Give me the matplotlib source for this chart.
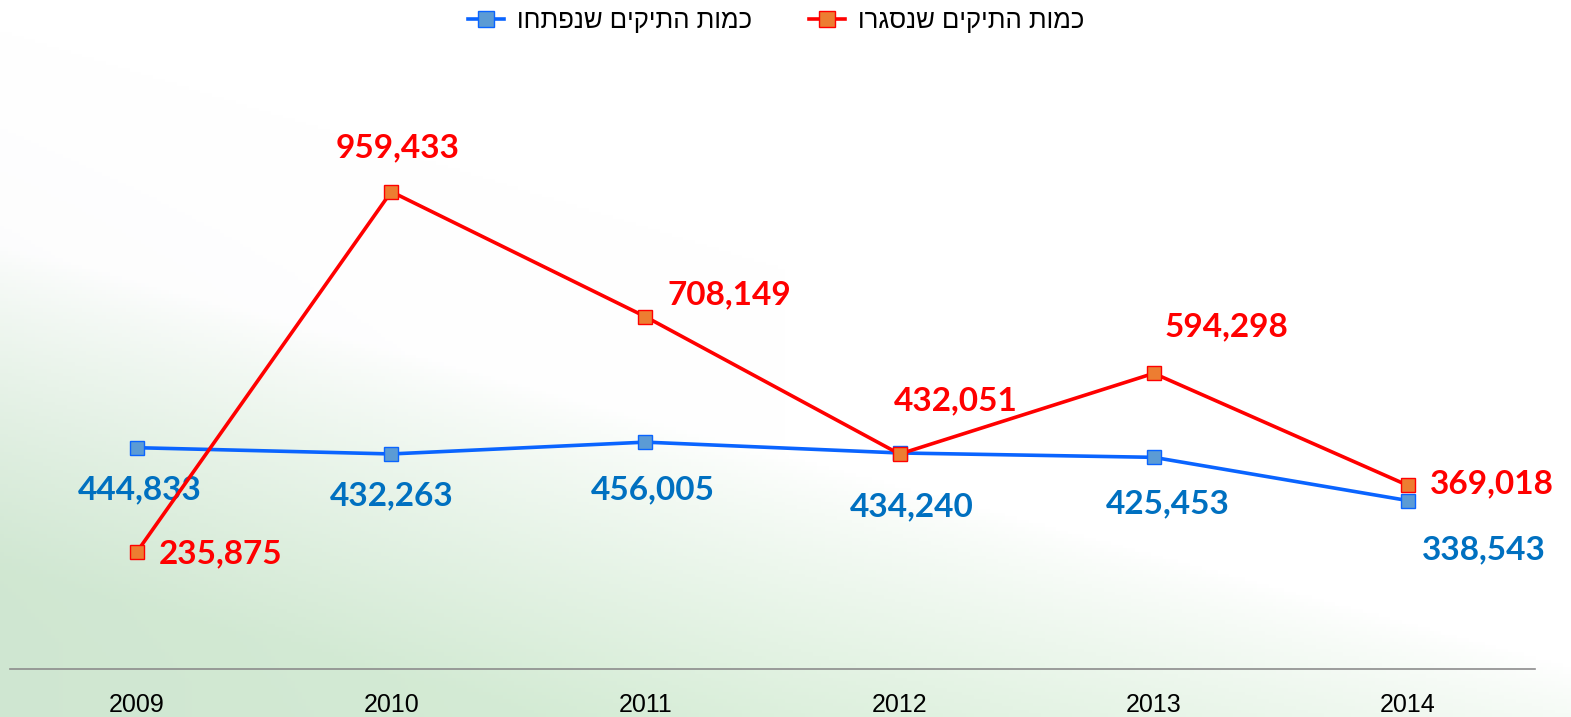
import matplotlib.pyplot as plt
import numpy as np

# values
years = ["2009", "2010", "2011", "2012", "2013", "2014"]
opened = [444833, 432263, 456005, 434240, 425453, 338543]
closed = [235875, 959433, 708149, 432051, 594298, 369018]

label_opened = "כמות התיקים שנפתחו"
label_closed = "כמות התיקים שנסגרו"

# label offsets in pixels (dx, dy) relative to each point
opened_offsets = [(3, -42), (0, -42), (7, -48), (12, -54), (14, -46), (76, -49)]
closed_offsets = [(83, -2), (6, 44), (84, 22), (56, 53), (73, 47), (84, 2)]

fig = plt.figure(figsize=(15.71, 7.17), dpi=100)

# soft decorative background
bg = fig.add_axes([0, 0, 1, 1], zorder=-10)
u, v = np.meshgrid(np.linspace(0, 1, 400), np.linspace(0, 1, 200))
w = np.clip(2.2 * v - 1.3 * u - 0.75, 0, 1) ** 0.8 * 0.9
g = np.clip(1.2 * v - 0.8 * u - 0.05, 0, 1) * np.clip(1 - 2.0 * u, 0, 1) * 0.12
green = np.array([0.82, 0.92, 0.82])
grey = np.array([0.80, 0.80, 0.86])
img = np.ones((200, 400, 3)) * (1 - w[..., None] - g[..., None]) + w[..., None] * green + g[..., None] * grey
bg.imshow(np.clip(img, 0, 1), aspect="auto", extent=[0, 1, 1, 0])
bg.axis("off")

ax = fig.add_axes([10 / 1571, 48 / 717, 1525 / 1571, 597 / 717])
ax.patch.set_alpha(0)
x = np.arange(len(years))

ax.plot(x, opened, color="#0A64FF", lw=2.6, marker="s", markersize=10,
        markerfacecolor="#5B9BD5", markeredgecolor="#0A64FF", markeredgewidth=1,
        label=label_opened[::-1], zorder=3)
ax.plot(x, closed, color="#FF0000", lw=2.6, marker="s", markersize=10,
        markerfacecolor="#ED7D31", markeredgecolor="#FF0000", markeredgewidth=1,
        label=label_closed[::-1], zorder=4)

for i, val in enumerate(opened):
    ax.annotate(f"{val:,}", (x[i], val), xytext=opened_offsets[i], textcoords="offset pixels",
                ha="center", va="center", fontsize=24, fontweight="bold",
                family="Lato", color="#0070C0")
for i, val in enumerate(closed):
    ax.annotate(f"{val:,}", (x[i], val), xytext=closed_offsets[i], textcoords="offset pixels",
                ha="center", va="center", fontsize=24, fontweight="bold",
                family="Lato", color="#FF0000")

ax.set_xlim(-0.5, 5.5)
ax.set_ylim(0, 1200000)
ax.set_xticks(x)
ax.set_xticklabels(years, fontsize=18, family="Liberation Sans")
ax.tick_params(axis="x", length=0, pad=17)
ax.set_yticks([])
for s in ["top", "right", "left"]:
    ax.spines[s].set_visible(False)
ax.spines["bottom"].set_color("#8C8C8C")
ax.spines["bottom"].set_linewidth(1.2)

fig.legend(loc="upper center", bbox_to_anchor=(0.494, 1.02), ncol=2, frameon=False,
           prop={"family": "Liberation Sans", "size": 18.5}, columnspacing=2.2,
           handlelength=1.4, handletextpad=0.5, markerscale=1.2)

fig.savefig("out.png", dpi=100)
